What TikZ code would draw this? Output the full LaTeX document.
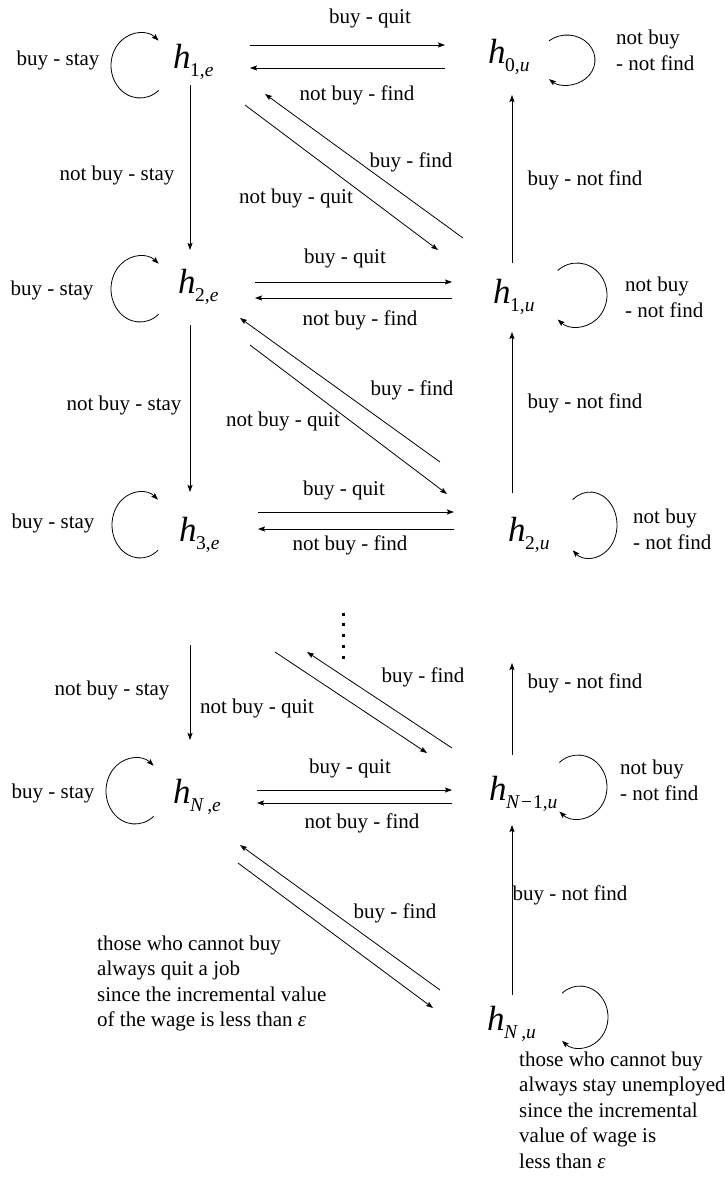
\documentclass[tikz,border=0pt]{standalone}
\usepackage{fontspec}
\setmainfont{Liberation Serif}
\usetikzlibrary{arrows.meta}
\newcommand{\hsub}[1]{{\fontsize{35}{35}\selectfont\itshape h}\kern-0.5pt\raisebox{-8pt}{\fontsize{19.5}{19.5}\selectfont #1}}
\newcommand{\lloop}[5]{\draw[arr] ([shift={(#2,#3)}]#1.base west) ++(50:#4 and #5) arc[start angle=50,end angle=310,x radius=#4,y radius=#5];}
\newcommand{\rloop}[5]{\draw[arr] ([shift={(#2,#3)}]#1.base west) ++(-130:#4 and #5) arc[start angle=-130,end angle=130,x radius=#4,y radius=#5];}
\begin{document}
\begin{tikzpicture}[x=1pt,y=-1pt,
  arr/.style={-{Stealth[length=7pt,width=5pt,inset=1.2pt]},line width=0.8pt},
  lbl/.style={font=\fontsize{21}{25.5}\selectfont, inner sep=0pt},
  st/.style={inner sep=0pt, anchor=base west},
  multi/.style={lbl, align=left, anchor=west}]
\useasboundingbox (0,0) rectangle (725,1184);

% state nodes
\node[st] (h1e) at (173,68) {\hsub{1,\textit{e}}};
\node[st] (h0u) at (488,63) {\hsub{0,\textit{u}}};
\node[st] (h2e) at (178,293) {\hsub{2,\textit{e}}};
\node[st] (h1u) at (493,303) {\hsub{1,\textit{u}}};
\node[st] (h3e) at (179,541) {\hsub{3,\textit{e}}};
\node[st] (h2u) at (508,541) {\hsub{2,\textit{u}}};
\node[st] (hNe) at (173,803) {\hsub{\textit{N}\,,\textit{e}}};
\node[st] (hN1u) at (489,800) {\hsub{\textit{N}\kern1pt−\kern1pt1,\textit{u}}};
\node[st] (hNu) at (487,1030) {\hsub{\textit{N}\,,\textit{u}}};
\coordinate (dots) at (343,636);

% dots
\draw[line width=3pt, dash pattern=on 3pt off 7.75pt] ([shift={(0,-23.5)}]dots) -- ([shift={(0,22.5)}]dots);

% self loops
\lloop{h1e}{-33}{-2.5}{29}{32.5}
\lloop{h2e}{-38}{-4}{29}{33}
\lloop{h3e}{-39}{-16}{28}{33}
\lloop{hNe}{-38}{-12}{29}{33}
\rloop{h0u}{79}{-3}{28}{25}
\rloop{h1u}{84}{-8}{30}{32}
\rloop{h2u}{82}{-16}{27}{33}
\rloop{hN1u}{89}{-13}{29}{32}
\rloop{hNu}{93}{-13}{28}{31}

% row 1
\draw[arr] ([shift={(77,-23)}]h1e.base west) -- ([shift={(-43,-18)}]h0u.base west);
\draw[arr] ([shift={(-43,5)}]h0u.base west) -- ([shift={(77,0)}]h1e.base west);
\draw[arr] ([shift={(72,37)}]h1e.base west) -- ([shift={(-55,-53)}]h1u.base west);
\draw[arr] ([shift={(-30,-65)}]h1u.base west) -- ([shift={(92,26)}]h1e.base west);
\draw[arr] ([shift={(17,17)}]h1e.base west) -- ([shift={(12,-43)}]h2e.base west);
\draw[arr] ([shift={(19,-40)}]h1u.base west) -- ([shift={(24,32)}]h0u.base west);

% row 2
\draw[arr] ([shift={(77,-11)}]h2e.base west) -- ([shift={(-41,-21)}]h1u.base west);
\draw[arr] ([shift={(-41,-5)}]h1u.base west) -- ([shift={(77,5)}]h2e.base west);
\draw[arr] ([shift={(-68,-79)}]h2u.base west) -- ([shift={(62,25)}]h2e.base west);
\draw[arr] ([shift={(72,52)}]h2e.base west) -- ([shift={(-61,-47)}]h2u.base west);
\draw[arr] ([shift={(12,32)}]h2e.base west) -- ([shift={(11,-49)}]h3e.base west);
\draw[arr] ([shift={(4,-48)}]h2u.base west) -- ([shift={(19,29)}]h1u.base west);

% row 3
\draw[arr] ([shift={(79,-29)}]h3e.base west) -- ([shift={(-54,-29)}]h2u.base west);
\draw[arr] ([shift={(-54,-12)}]h2u.base west) -- ([shift={(79,-12)}]h3e.base west);

% section between dots and row N
\draw[arr] ([shift={(11,104)}]h3e.base west) -- ([shift={(17,-63)}]hNe.base west);
\draw[arr] ([shift={(-68,16)}]dots) -- ([shift={(-62,-47)}]hN1u.base west);
\draw[arr] ([shift={(-37,-52)}]hN1u.base west) -- ([shift={(-36,16)}]dots);
\draw[arr] ([shift={(23,-45)}]hN1u.base west) -- ([shift={(4,122)}]h2u.base west);

% row N
\draw[arr] ([shift={(84,-13)}]hNe.base west) -- ([shift={(-37,-10)}]hN1u.base west);
\draw[arr] ([shift={(-37,3)}]hN1u.base west) -- ([shift={(84,0)}]hNe.base west);
\draw[arr] ([shift={(-47,-40)}]hNu.base west) -- ([shift={(67,42)}]hNe.base west);
\draw[arr] ([shift={(65,60)}]hNe.base west) -- ([shift={(-54,-22)}]hNu.base west);
\draw[arr] ([shift={(25,-35)}]hNu.base west) -- ([shift={(23,25)}]hN1u.base west);

% labels row 1
\node[lbl] (l1) at (370,18) {buy - quit};
\node[lbl] (l2) at (357,95) {not buy - find};
\node[lbl] (l3) at (411,162) {buy - find};
\node[lbl] (l4) at (296,198) {not buy - quit};
\node[lbl] (l5) at (117,175) {not buy - stay};
\node[lbl] (l6) at (585,180) {buy - not find};
\node[lbl] (l7) at (58,60) {buy - stay};
\node[multi] (l8) at (616,50.5) {not buy\\- not find};
% labels row 2
\node[lbl] (m1) at (345,258) {buy - quit};
\node[lbl] (m2) at (360,320) {not buy - find};
\node[lbl] (m3) at (412,390) {buy - find};
\node[lbl] (m4) at (283,421) {not buy - quit};
\node[lbl] (m5) at (124,405) {not buy - stay};
\node[lbl] (m6) at (585,403) {buy - not find};
\node[lbl] (m7) at (52,290) {buy - stay};
\node[multi] (m8) at (625,297.5) {not buy\\- not find};
% labels row 3
\node[lbl] (n1) at (344,490) {buy - quit};
\node[lbl] (n2) at (350,545) {not buy - find};
\node[lbl] (n7) at (53,523) {buy - stay};
\node[multi] (n8) at (633,529.5) {not buy\\- not find};
% labels middle
\node[lbl] (o1) at (112,690) {not buy - stay};
\node[lbl] (o2) at (257,708) {not buy - quit};
\node[lbl] (o3) at (423,677) {buy - find};
\node[lbl] (o4) at (585,683) {buy - not find};
% labels row N
\node[lbl] (p1) at (350,768) {buy - quit};
\node[lbl] (p2) at (362,823) {not buy - find};
\node[lbl] (p7) at (53,793) {buy - stay};
\node[multi] (p8) at (620,780.5) {not buy\\- not find};
\node[lbl] (p3) at (395,913) {buy - find};
\node[lbl] (p4) at (570,895) {buy - not find};
\node[multi] (q1) at (97,983.5) {those who cannot buy\\always quit a job\\since the incremental value\\of the wage is less than \textit{ε}};
\node[multi] (q2) at (519,1110) {those who cannot buy\\always stay unemployed\\since the incremental\\value of wage is\\less than \textit{ε}};
\end{tikzpicture}
\end{document}
